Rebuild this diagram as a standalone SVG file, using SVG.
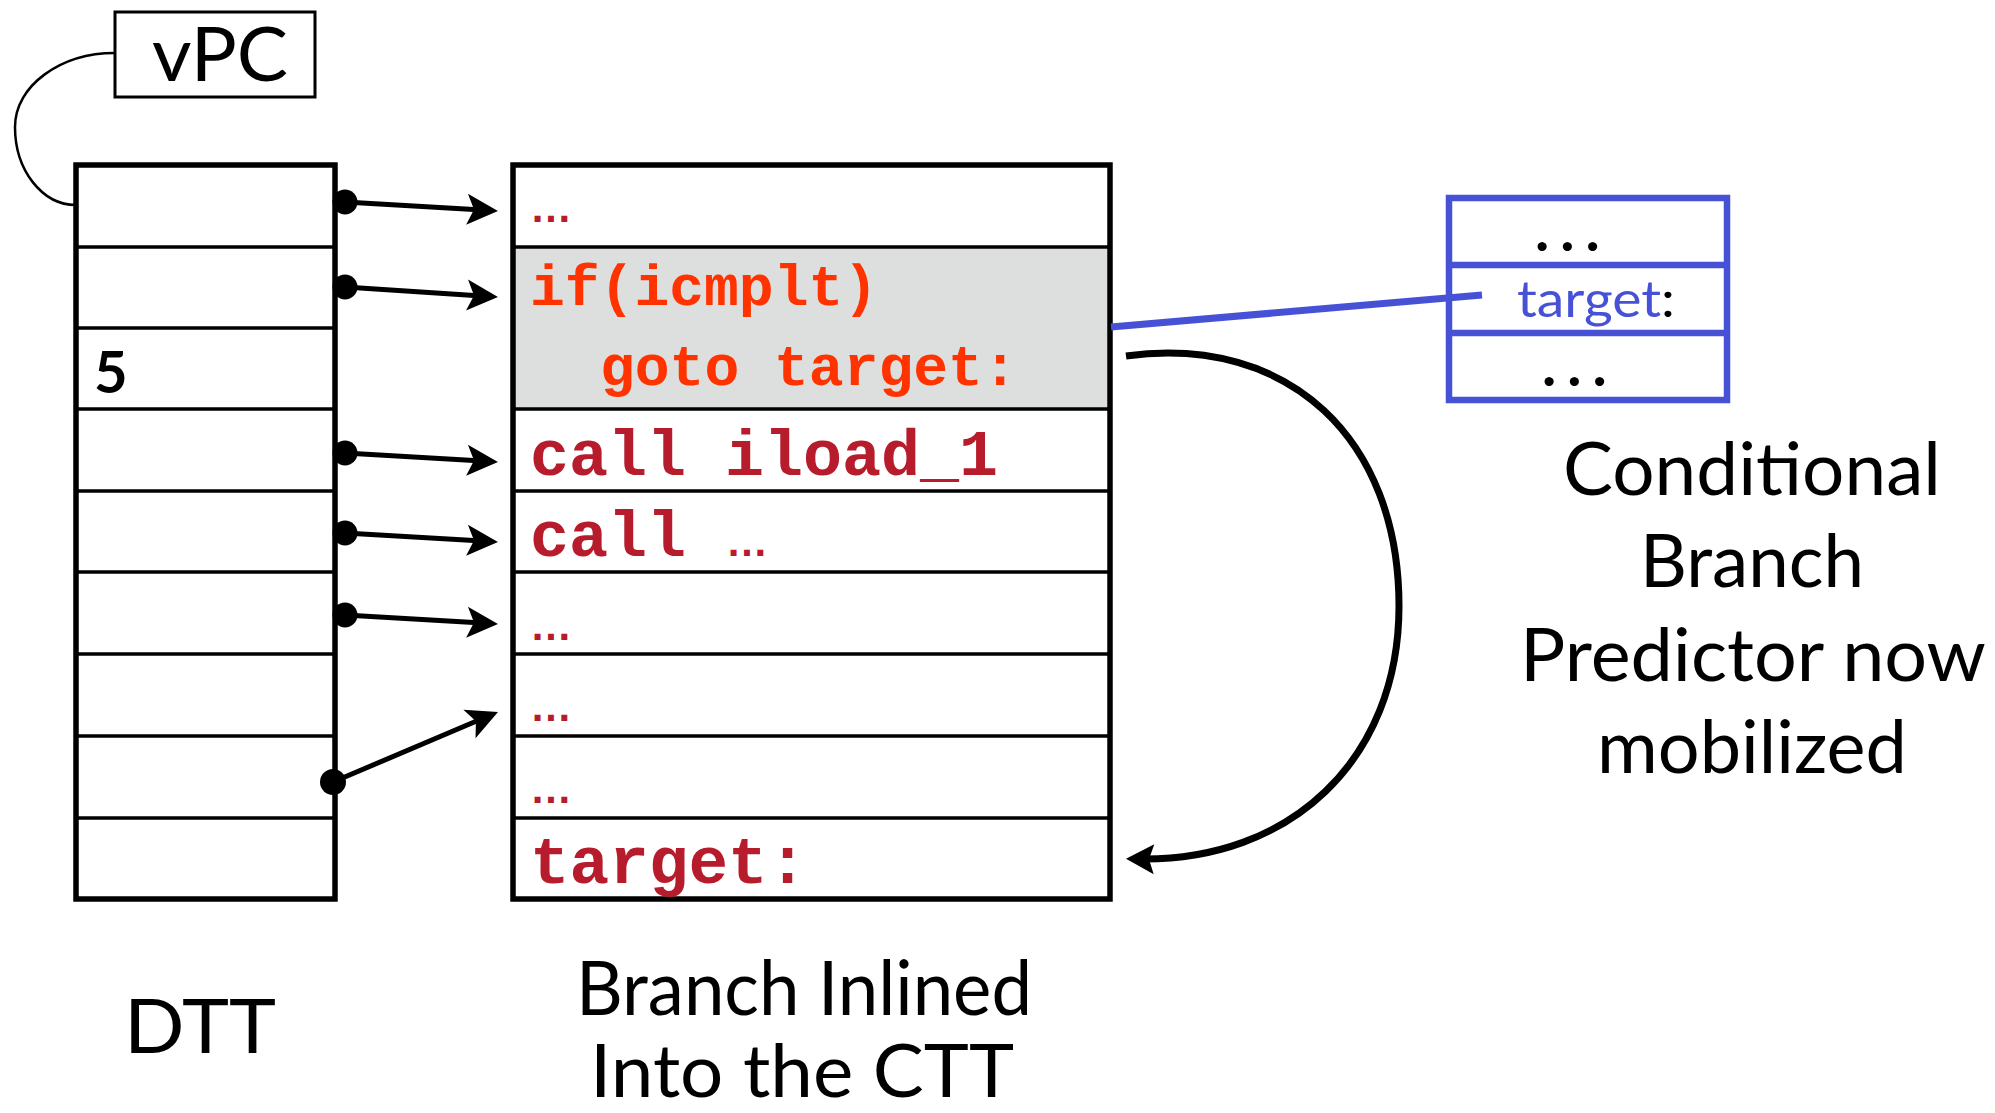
<svg xmlns="http://www.w3.org/2000/svg" width="1995" height="1113" viewBox="0 0 1995 1113">
<style>
.sans{font-family:Lato,"Open Sans","Liberation Sans",sans-serif;fill:#000}
.mono{font-family:"Liberation Mono","Courier New",monospace;font-weight:bold}
.ell{font-family:"Liberation Sans",Arial,sans-serif;font-weight:bold;font-size:42px}
.orange{fill:#ff3300}
.crimson{fill:#b71c2c}
.outer{fill:none;stroke:#000;stroke-width:5.5}
.inner{stroke:#000;stroke-width:3.5}
.conn{fill:none;stroke:#000;stroke-width:5}
.bl{stroke:#4751d6}
</style>
<defs>
<marker id="ah" markerUnits="userSpaceOnUse" viewBox="-33 -17 35 34" refX="-20" refY="0" markerWidth="35" markerHeight="34" orient="auto">
<path d="M0,0 L-31,-15.5 L-24,0 L-31,15.5 Z" fill="#000"/>
</marker>
<marker id="ah2" markerUnits="userSpaceOnUse" viewBox="-30 -17 32 34" refX="-12" refY="0" markerWidth="32" markerHeight="34" orient="auto">
<path d="M0,0 L-28,-15 L-23,0 L-28,15 Z" fill="#000"/>
</marker>
</defs>
<rect width="1995" height="1113" fill="#fff"/>

<g id="vpc">
<rect x="115" y="12" width="200" height="85" fill="#fff" stroke="#000" stroke-width="3"/>
<text class="sans" x="220" y="81" font-size="76" text-anchor="middle" textLength="136" lengthAdjust="spacingAndGlyphs">vPC</text>
</g>

<g id="dtt">
<g class="inner">
<line x1="76" y1="247" x2="335" y2="247"/>
<line x1="76" y1="328" x2="335" y2="328"/>
<line x1="76" y1="409" x2="335" y2="409"/>
<line x1="76" y1="491" x2="335" y2="491"/>
<line x1="76" y1="572" x2="335" y2="572"/>
<line x1="76" y1="654" x2="335" y2="654"/>
<line x1="76" y1="736" x2="335" y2="736"/>
<line x1="76" y1="818" x2="335" y2="818"/>
</g>
<rect class="outer" x="76" y="165" width="259" height="734"/>
<text class="sans" x="94" y="393" font-size="58" font-weight="bold">5</text>
<text class="sans" x="200" y="1053" font-size="76" text-anchor="middle" textLength="152" lengthAdjust="spacingAndGlyphs">DTT</text>
</g>

<g id="ctt">
<rect x="513" y="247" width="597" height="162" fill="#dddfde"/>
<g class="inner">
<line x1="513" y1="247" x2="1110" y2="247"/>
<line x1="513" y1="409" x2="1110" y2="409"/>
<line x1="513" y1="491" x2="1110" y2="491"/>
<line x1="513" y1="572" x2="1110" y2="572"/>
<line x1="513" y1="654" x2="1110" y2="654"/>
<line x1="513" y1="736" x2="1110" y2="736"/>
<line x1="513" y1="818" x2="1110" y2="818"/>
</g>
<rect class="outer" x="513" y="165" width="597" height="734"/>
<text class="ell crimson" x="530" y="222">…</text>
<text class="mono orange" x="530" y="305" font-size="58">if(icmplt)</text>
<text class="mono orange" x="600" y="385" font-size="58">goto target:</text>
<text class="mono crimson" x="530" y="475" font-size="65">call iload_1</text>
<text class="mono crimson" x="530" y="556" font-size="65">call <tspan class="ell" x="726">…</tspan></text>
<text class="ell crimson" x="530" y="640">…</text>
<text class="ell crimson" x="530" y="721">…</text>
<text class="ell crimson" x="530" y="803">…</text>
<text class="mono crimson" x="530" y="883" font-size="66">target:</text>
<text class="sans" x="804" y="1015" font-size="76" text-anchor="middle" textLength="456" lengthAdjust="spacingAndGlyphs">Branch Inlined</text>
<text class="sans" x="802" y="1097" font-size="74" text-anchor="middle" textLength="424" lengthAdjust="spacingAndGlyphs">Into the CTT</text>
</g>

<g id="predictor">
<rect x="1449" y="198" width="278" height="202" fill="#fff" stroke="#4751d6" stroke-width="6.5"/>
<line class="bl" x1="1449" y1="265" x2="1727" y2="265" stroke-width="6.5"/>
<line class="bl" x1="1449" y1="333" x2="1727" y2="333" stroke-width="6.5"/>
<text class="sans" x="1535" y="251" font-size="60" font-weight="bold" letter-spacing="11">...</text>
<text class="sans" x="1517" y="317" font-size="50" textLength="158" lengthAdjust="spacingAndGlyphs"><tspan fill="#4751d6">target</tspan>:</text>
<text class="sans" x="1542" y="386" font-size="60" font-weight="bold" letter-spacing="11">...</text>
<text class="sans" x="1752" y="495" font-size="74" text-anchor="middle" textLength="378" lengthAdjust="spacingAndGlyphs">Conditional</text>
<text class="sans" x="1752" y="587" font-size="74" text-anchor="middle" textLength="224" lengthAdjust="spacingAndGlyphs">Branch</text>
<text class="sans" x="1753" y="681" font-size="74" text-anchor="middle" textLength="466" lengthAdjust="spacingAndGlyphs">Predictor now</text>
<text class="sans" x="1752" y="773" font-size="74" text-anchor="middle" textLength="310" lengthAdjust="spacingAndGlyphs">mobilized</text>
</g>

<g id="connectors">
<path d="M115,53 C60,53 15,86 15,127 C15,170 42,205 76,205" fill="none" stroke="#000" stroke-width="2.5"/>
<g fill="#000">
<circle cx="345" cy="202" r="12.5"/>
<circle cx="345" cy="287" r="12.5"/>
<circle cx="345" cy="453" r="12.5"/>
<circle cx="345" cy="533" r="12.5"/>
<circle cx="345" cy="615" r="12.5"/>
<circle cx="333" cy="782" r="13"/>
</g>
<line class="conn" x1="345" y1="202" x2="478" y2="209.8" marker-end="url(#ah)"/>
<line class="conn" x1="345" y1="287" x2="478" y2="295.7" marker-end="url(#ah)"/>
<line class="conn" x1="345" y1="453" x2="478" y2="460.8" marker-end="url(#ah)"/>
<line class="conn" x1="345" y1="533" x2="478" y2="540.8" marker-end="url(#ah)"/>
<line class="conn" x1="345" y1="615" x2="478" y2="622.8" marker-end="url(#ah)"/>
<line class="conn" x1="333" y1="782" x2="479.6" y2="719.8" marker-end="url(#ah)"/>
<path d="M1126,356 C1290,334 1399,440 1399,606 C1399,760 1290,862 1138,859" fill="none" stroke="#000" stroke-width="7" marker-end="url(#ah2)"/>
<line x1="1111" y1="327" x2="1482" y2="295" stroke="#4751d6" stroke-width="7"/>
</g>
</svg>
